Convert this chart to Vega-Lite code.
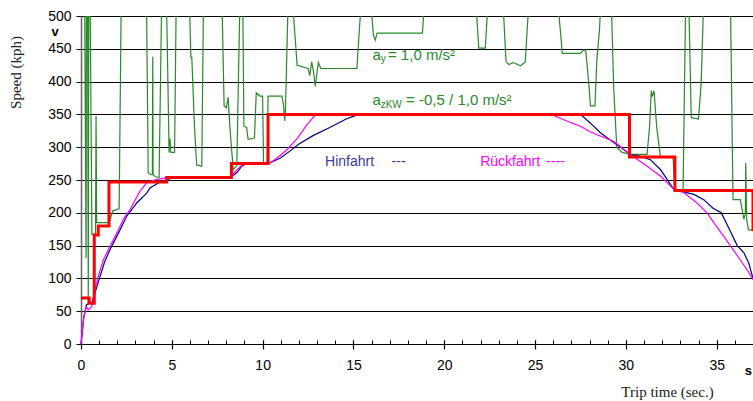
{
  "$schema": "https://vega.github.io/schema/vega-lite/v6.json",
  "width": 672,
  "height": 328,
  "autosize": "none",
  "padding": {"left": 81, "top": 16, "right": 0, "bottom": 57},
  "background": "white",
  "config": {"view": {"stroke": null}, "font": "Liberation Sans"},
  "datasets": {
    "limit": [
      {"t": 0, "v": 70}, {"t": 0.45, "v": 62}, {"t": 0.73, "v": 166}, {"t": 0.95, "v": 180},
      {"t": 1.54, "v": 247}, {"t": 4.72, "v": 254}, {"t": 8.28, "v": 275}, {"t": 10.3, "v": 350},
      {"t": 30.2, "v": 285}, {"t": 32.7, "v": 234}, {"t": 37, "v": 234}, {"t": 37, "v": 172}
    ],
    "hin": [
      {"t": 0, "v": 0}, {"t": 0.08, "v": 20}, {"t": 0.16, "v": 42}, {"t": 0.31, "v": 60}, {"t": 0.45, "v": 62},
      {"t": 0.59, "v": 63}, {"t": 0.77, "v": 78}, {"t": 1.05, "v": 103}, {"t": 1.3, "v": 125}, {"t": 1.6, "v": 144},
      {"t": 2.06, "v": 169}, {"t": 2.52, "v": 195}, {"t": 3.07, "v": 215}, {"t": 3.62, "v": 230}, {"t": 3.8, "v": 238},
      {"t": 4.35, "v": 247}, {"t": 4.9, "v": 252}, {"t": 5.5, "v": 254}, {"t": 8.2, "v": 254}, {"t": 8.58, "v": 261},
      {"t": 8.85, "v": 271}, {"t": 9.04, "v": 274}, {"t": 10.4, "v": 276}, {"t": 11.0, "v": 284}, {"t": 11.5, "v": 294},
      {"t": 12.0, "v": 305}, {"t": 12.8, "v": 318}, {"t": 13.7, "v": 330}, {"t": 14.6, "v": 343}, {"t": 15.3, "v": 350},
      {"t": 27.5, "v": 350}, {"t": 28.04, "v": 337}, {"t": 28.6, "v": 322}, {"t": 29.33, "v": 307}, {"t": 29.7, "v": 300},
      {"t": 30.25, "v": 289}, {"t": 30.8, "v": 286}, {"t": 31.35, "v": 281}, {"t": 31.9, "v": 266}, {"t": 32.27, "v": 251},
      {"t": 32.63, "v": 236}, {"t": 33.0, "v": 233}, {"t": 33.74, "v": 228}, {"t": 34.29, "v": 220}, {"t": 34.8, "v": 207},
      {"t": 35.25, "v": 200}, {"t": 35.7, "v": 175}, {"t": 36.13, "v": 150}, {"t": 36.5, "v": 139}, {"t": 36.77, "v": 123},
      {"t": 37, "v": 100}
    ],
    "rueck": [
      {"t": 0, "v": 0}, {"t": 0.13, "v": 37}, {"t": 0.28, "v": 57}, {"t": 0.4, "v": 52}, {"t": 0.59, "v": 57},
      {"t": 0.77, "v": 83}, {"t": 0.95, "v": 103}, {"t": 1.23, "v": 128}, {"t": 1.6, "v": 149}, {"t": 1.97, "v": 169},
      {"t": 2.33, "v": 190}, {"t": 2.7, "v": 205}, {"t": 3.25, "v": 233}, {"t": 3.62, "v": 246}, {"t": 4.2, "v": 251},
      {"t": 4.8, "v": 254}, {"t": 8.2, "v": 254}, {"t": 8.5, "v": 263}, {"t": 8.8, "v": 271}, {"t": 9.0, "v": 275},
      {"t": 10.4, "v": 276}, {"t": 10.96, "v": 287}, {"t": 11.4, "v": 298}, {"t": 11.9, "v": 313}, {"t": 12.4, "v": 333},
      {"t": 12.9, "v": 349}, {"t": 13.0, "v": 350}, {"t": 25.9, "v": 350}, {"t": 26.5, "v": 343}, {"t": 27.0, "v": 337},
      {"t": 27.5, "v": 332}, {"t": 28.0, "v": 324}, {"t": 28.41, "v": 319}, {"t": 29.33, "v": 309}, {"t": 29.88, "v": 297},
      {"t": 30.25, "v": 289}, {"t": 31.17, "v": 271}, {"t": 31.9, "v": 256}, {"t": 32.45, "v": 241}, {"t": 32.73, "v": 234},
      {"t": 33.18, "v": 231}, {"t": 33.92, "v": 215}, {"t": 34.47, "v": 200}, {"t": 34.84, "v": 185}, {"t": 35.39, "v": 164},
      {"t": 35.8, "v": 148}, {"t": 36.3, "v": 128}, {"t": 36.7, "v": 112}, {"t": 37, "v": 98}
    ],
    "ay": [
      {"t": 0.2, "v": 540}, {"t": 0.28, "v": 131}, {"t": 0.3, "v": 540}, {"t": 0.36, "v": 540}, {"t": 0.4, "v": 62},
      {"t": 0.43, "v": 540}, {"t": 0.5, "v": 540}, {"t": 0.6, "v": 167}, {"t": 0.8, "v": 167}, {"t": 0.83, "v": 348},
      {"t": 0.86, "v": 185}, {"t": 1.55, "v": 185}, {"t": 1.75, "v": 203}, {"t": 2.1, "v": 206}, {"t": 2.22, "v": 540},
      {"t": 3.6, "v": 540}, {"t": 3.7, "v": 261}, {"t": 3.85, "v": 258}, {"t": 3.93, "v": 258}, {"t": 3.95, "v": 438},
      {"t": 3.97, "v": 258}, {"t": 4.1, "v": 255}, {"t": 4.3, "v": 254}, {"t": 4.45, "v": 540}, {"t": 4.7, "v": 540},
      {"t": 4.85, "v": 292}, {"t": 4.9, "v": 313}, {"t": 4.95, "v": 292}, {"t": 5.15, "v": 292}, {"t": 5.25, "v": 540},
      {"t": 5.95, "v": 540}, {"t": 6.05, "v": 437}, {"t": 6.1, "v": 437}, {"t": 6.25, "v": 330}, {"t": 6.37, "v": 273},
      {"t": 6.65, "v": 271}, {"t": 6.75, "v": 540}, {"t": 7.75, "v": 540}, {"t": 7.88, "v": 363}, {"t": 8.0, "v": 360},
      {"t": 8.1, "v": 376}, {"t": 8.2, "v": 330}, {"t": 8.38, "v": 266}, {"t": 8.58, "v": 272}, {"t": 8.76, "v": 540},
      {"t": 8.9, "v": 540}, {"t": 8.97, "v": 332}, {"t": 9.12, "v": 330}, {"t": 9.2, "v": 312}, {"t": 9.55, "v": 314},
      {"t": 9.65, "v": 383}, {"t": 9.85, "v": 378}, {"t": 10.0, "v": 378}, {"t": 10.05, "v": 276}, {"t": 10.25, "v": 276},
      {"t": 10.3, "v": 378}, {"t": 11.06, "v": 378}, {"t": 11.15, "v": 365}, {"t": 11.22, "v": 340}, {"t": 11.26, "v": 360},
      {"t": 11.42, "v": 540}, {"t": 11.6, "v": 540}, {"t": 11.9, "v": 425}, {"t": 12.5, "v": 420}, {"t": 12.6, "v": 409},
      {"t": 12.7, "v": 430}, {"t": 12.8, "v": 415}, {"t": 12.9, "v": 393}, {"t": 13.0, "v": 415}, {"t": 13.07, "v": 429},
      {"t": 13.2, "v": 420}, {"t": 15.19, "v": 420}, {"t": 15.47, "v": 540}, {"t": 15.9, "v": 540}, {"t": 16.1, "v": 471},
      {"t": 16.2, "v": 463}, {"t": 16.3, "v": 474}, {"t": 18.8, "v": 474}, {"t": 18.95, "v": 540}, {"t": 21.7, "v": 540},
      {"t": 21.9, "v": 451}, {"t": 22.26, "v": 451}, {"t": 22.45, "v": 540}, {"t": 23.2, "v": 540}, {"t": 23.4, "v": 431},
      {"t": 23.55, "v": 426}, {"t": 23.8, "v": 429}, {"t": 24.2, "v": 424}, {"t": 24.46, "v": 430}, {"t": 24.7, "v": 540},
      {"t": 26.2, "v": 540}, {"t": 26.5, "v": 443}, {"t": 27.5, "v": 443}, {"t": 27.7, "v": 449}, {"t": 27.8, "v": 445},
      {"t": 27.95, "v": 400}, {"t": 28.05, "v": 363}, {"t": 28.3, "v": 363}, {"t": 28.4, "v": 432}, {"t": 28.55, "v": 480},
      {"t": 28.65, "v": 540}, {"t": 29.18, "v": 540}, {"t": 29.33, "v": 390}, {"t": 29.5, "v": 300}, {"t": 29.8, "v": 292},
      {"t": 30.25, "v": 289}, {"t": 31.17, "v": 289}, {"t": 31.3, "v": 330}, {"t": 31.4, "v": 386}, {"t": 31.45, "v": 377},
      {"t": 31.55, "v": 386}, {"t": 31.7, "v": 330}, {"t": 31.9, "v": 286}, {"t": 32.6, "v": 284}, {"t": 32.7, "v": 235},
      {"t": 33.15, "v": 235}, {"t": 33.3, "v": 540}, {"t": 33.45, "v": 540}, {"t": 33.6, "v": 345}, {"t": 34.0, "v": 343},
      {"t": 34.15, "v": 400}, {"t": 34.3, "v": 540}, {"t": 35.75, "v": 540}, {"t": 35.9, "v": 220}, {"t": 36.3, "v": 220},
      {"t": 36.4, "v": 205}, {"t": 36.5, "v": 190}, {"t": 36.58, "v": 200}, {"t": 36.6, "v": 276}, {"t": 36.65, "v": 190},
      {"t": 36.75, "v": 174}, {"t": 37, "v": 174}
    ]
  },
  "resolve": {"axis": {"x": "independent", "y": "independent"}},
  "layer": [
    {
      "data": {"name": "ay"},
      "mark": {"type": "line", "color": "#2a8a2a", "strokeWidth": 1.2, "clip": true},
      "encoding": {
        "x": {
          "field": "t", "type": "quantitative",
          "scale": {"domain": [0, 37], "nice": false, "zero": false},
          "axis": {
            "orient": "bottom", "values": [0,1,2,3,4,5,6,7,8,9,10,11,12,13,14,15,16,17,18,19,20,21,22,23,24,25,26,27,28,29,30,31,32,33,34,35,36,37],
            "tickSize": -4, "labels": false, "grid": false, "title": null,
            "domainColor": "#000", "tickColor": "#000", "domainWidth": 1, "tickWidth": 1
          }
        },
        "y": {
          "field": "v", "type": "quantitative",
          "scale": {"domain": [0, 500], "nice": false},
          "axis": {
            "values": [0,50,100,150,200,250,300,350,400,450,500],
            "grid": true, "gridColor": "#000", "gridWidth": 1, "gridOpacity": 1,
            "tickSize": 5, "tickColor": "#000", "domainColor": "#666", "domainWidth": 1.5,
            "labelPadding": 5, "labelFont": "Liberation Sans", "labelFontSize": 14, "labelColor": "#000",
            "title": "Speed (kph)", "titleFont": "Liberation Serif", "titleFontSize": 15, "titleFontWeight": "normal",
            "titleColor": "#222", "titleAngle": 270, "titleX": -61, "titleY": 56, "titleAlign": "center", "titleBaseline": "alphabetic"
          }
        }
      }
    },
    {
      "data": {"name": "hin"},
      "mark": {"type": "line", "color": "#000080", "strokeWidth": 1.2},
      "encoding": {
        "x": {
          "field": "t", "type": "quantitative",
          "axis": {
            "orient": "bottom", "values": [0,5,10,15,20,25,30,35], "offset": -4, "tickSize": 9, "domain": false,
            "tickColor": "#000", "tickWidth": 1.2, "grid": false,
            "labelPadding": 9, "labelFlush": false, "labelFont": "Liberation Sans", "labelFontSize": 14, "labelColor": "#000",
            "title": "Trip time (sec.)", "titleFont": "Liberation Serif", "titleFontSize": 15, "titleFontWeight": "normal",
            "titleColor": "#222", "titleX": 586, "titleY": 56, "titleAlign": "center", "titleBaseline": "alphabetic"
          }
        },
        "y": {"field": "v", "type": "quantitative", "axis": null}
      }
    },
    {
      "data": {"name": "rueck"},
      "mark": {"type": "line", "color": "#ff00ff", "strokeWidth": 1.2},
      "encoding": {
        "x": {"field": "t", "type": "quantitative", "axis": null},
        "y": {"field": "v", "type": "quantitative", "axis": null}
      }
    },
    {
      "data": {"name": "limit"},
      "mark": {"type": "line", "color": "#ff0000", "strokeWidth": 3, "interpolate": "step-after"},
      "encoding": {
        "x": {"field": "t", "type": "quantitative", "axis": null},
        "y": {"field": "v", "type": "quantitative", "axis": null}
      }
    },
    {
      "data": {"values": [
        {"t": 16.05, "v": 433, "txt": "a"},
        {"t": 16.9, "v": 433, "txt": "= 1,0 m/s²"},
        {"t": 16.05, "v": 365, "txt": "a"},
        {"t": 17.9, "v": 365, "txt": "= -0,5 / 1,0 m/s²"}
      ]},
      "mark": {"type": "text", "align": "left", "baseline": "alphabetic", "font": "Liberation Sans", "fontSize": 15, "color": "#2a8a2a"},
      "encoding": {
        "x": {"field": "t", "type": "quantitative", "axis": null},
        "y": {"field": "v", "type": "quantitative", "axis": null},
        "text": {"field": "txt"}
      }
    },
    {
      "data": {"values": [
        {"t": 16.5, "v": 430, "txt": "y"},
        {"t": 16.5, "v": 360, "txt": "zKW"}
      ]},
      "mark": {"type": "text", "align": "left", "baseline": "alphabetic", "font": "Liberation Sans", "fontSize": 10, "color": "#2a8a2a"},
      "encoding": {
        "x": {"field": "t", "type": "quantitative", "axis": null},
        "y": {"field": "v", "type": "quantitative", "axis": null},
        "text": {"field": "txt"}
      }
    },
    {
      "data": {"values": [
        {"t": 13.44, "v": 270.6, "txt": "Hinfahrt"},
        {"t": 17.1, "v": 270.6, "txt": "---"}
      ]},
      "mark": {"type": "text", "align": "left", "baseline": "alphabetic", "font": "Liberation Sans", "fontSize": 14, "color": "#3a3aa0"},
      "encoding": {
        "x": {"field": "t", "type": "quantitative", "axis": null},
        "y": {"field": "v", "type": "quantitative", "axis": null},
        "text": {"field": "txt"}
      }
    },
    {
      "data": {"values": [
        {"t": 21.98, "v": 270.6, "txt": "Rückfahrt"},
        {"t": 25.62, "v": 270.6, "txt": "----"}
      ]},
      "mark": {"type": "text", "align": "left", "baseline": "alphabetic", "font": "Liberation Sans", "fontSize": 14, "color": "#ff00ff"},
      "encoding": {
        "x": {"field": "t", "type": "quantitative", "axis": null},
        "y": {"field": "v", "type": "quantitative", "axis": null},
        "text": {"field": "txt"}
      }
    },
    {
      "data": {"values": [
        {"t": -1.43, "v": 470, "txt": "v"},
        {"t": 36.75, "v": -47, "txt": "s"}
      ]},
      "mark": {"type": "text", "align": "center", "baseline": "alphabetic", "font": "Liberation Sans", "fontSize": 13, "fontWeight": "bold", "color": "#000"},
      "encoding": {
        "x": {"field": "t", "type": "quantitative", "axis": null},
        "y": {"field": "v", "type": "quantitative", "axis": null},
        "text": {"field": "txt"}
      }
    }
  ]
}
